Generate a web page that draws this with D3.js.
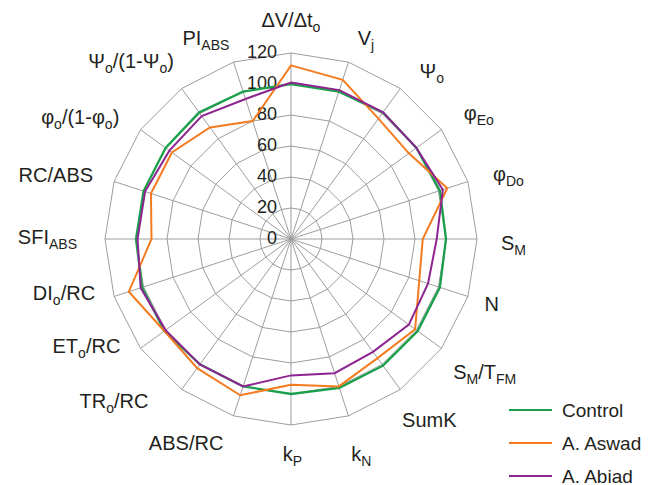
<!DOCTYPE html>
<html>
<head>
<meta charset="utf-8">
<script src="https://cdn.jsdelivr.net/npm/d3@7"></script>
<style>
  html, body { margin: 0; padding: 0; background: #fff; }
  svg { display: block; }
  text { font-family: "Liberation Sans", Arial, Helvetica, sans-serif; fill: #231f20; }
</style>
</head>
<body>
<svg id="chart" width="656" height="485"></svg>
<script>
// Parameters (axes run clockwise from the top); "_" marks a subscript
const axes = ["ΔV/Δt_o", "V_j", "Ψ_o", "φ_Eo", "φ_Do", "S_M", "N", "S_M/T_FM", "SumK", "k_N",
              "k_P", "ABS/RC", "TR_o/RC", "ET_o/RC", "DI_o/RC", "SFI_ABS", "RC/ABS",
              "φ_o/(1-φ_o)", "Ψ_o/(1-Ψ_o)", "PI_ABS"];

// Values relative to control (%)
const control = [100, 100, 101, 100, 101, 100, 101, 101, 101, 101, 100, 100, 100, 101, 101, 100, 100, 100, 101, 100];
const aswad   = [112, 108,  96,  94, 106,  85,  87,  99,  95, 100,  94, 106, 103, 101, 110,  90,  95,  95,  89,  80];
const abiad   = [101, 101, 101, 100, 103,  94,  93,  94,  90,  91,  88, 100, 100, 100, 102,  99,  99,  97,  98,  95];

const seriesNames = ["Control", "A. Aswad", "A. Abiad"];
const seriesColors = ["#1a9f4b", "#f47b20", "#8e2490"];
const ticks = [0, 20, 40, 60, 80, 100, 120];

// hand adjustments (px) applied to the automatic axis-label placement
const labelNudge = [[0, -1], [3, 7], [7.5, 11], [6, 7.5], [6, 1], [4, 6.5], [-2.5, 1.5], [-4.5, 5],
                    [-10, 7], [-3.5, 12], [1.5, 2], [-4, 1], [-21.5, -12], [-4, -21], [0, -7],
                    [-8, 0], [-2, 0], [-5, 11.5], [4, 1], [2, 7]];

const svg = d3.select("#chart");
const cx = 291, cy = 239, R = 186;
const r = d3.scaleLinear().domain([0, 120]).range([0, R]);
const angle = d3.scaleLinear().domain([0, axes.length]).range([0, 2 * Math.PI]);

const g = svg.append("g").attr("transform", `translate(${cx},${cy})`);
const pt = (i, v) => [Math.sin(angle(i)) * r(v), -Math.cos(angle(i)) * r(v)];

// grid rings
const ring = d3.line().curve(d3.curveLinearClosed);
g.append("g").selectAll("path").data(ticks.slice(1)).join("path")
  .attr("d", t => ring(axes.map((_, i) => pt(i, t))))
  .attr("fill", "none").attr("stroke", "#9d9d9d").attr("stroke-width", 1);

// spokes
g.append("g").selectAll("line").data(axes).join("line")
  .attr("x1", 0).attr("y1", 0)
  .attr("x2", (_, i) => pt(i, 120)[0]).attr("y2", (_, i) => pt(i, 120)[1])
  .attr("stroke", "#9d9d9d").attr("stroke-width", 1);

// tick labels
g.append("g").selectAll("text").data(ticks).join("text")
  .attr("x", -14).attr("y", t => -r(t) - 1.5)
  .attr("text-anchor", "end").attr("dominant-baseline", "central")
  .attr("font-size", 18).text(t => t);

// series
const series = [control, aswad, abiad];
g.append("g").selectAll("path").data(series).join("path")
  .attr("d", s => ring(s.map((v, i) => pt(i, v))))
  .attr("fill", "none")
  .attr("stroke", (_, k) => seriesColors[k])
  .attr("stroke-width", (_, k) => k === 0 ? 2.3 : 2)
  .attr("stroke-linejoin", "miter");

// axis labels with subscripts
const FS = 20, SUB = 14;
function addRich(sel, str) {
  const parts = str.split(/_(\w+)/);
  parts.forEach((p, k) => {
    if (!p) return;
    const isSub = k % 2 === 1;
    sel.append("tspan")
      .attr("font-size", isSub ? SUB : FS)
      .attr("dy", isSub ? 5 : (k > 0 ? -5 : 0))
      .text(p);
  });
}

// each label box is pinned by its corner / edge nearest the chart
const labelG = g.append("g");
axes.forEach((a, i) => {
  const t = labelG.append("text").attr("font-size", FS);
  addRich(t, a);
  const bb = t.node().getBBox();
  const x0 = bb.x, x1 = bb.x + bb.width;
  const y0 = bb.y + 4, y1 = bb.y + bb.height - 3;   // approximate ink extent
  const th = angle(i), s = Math.sin(th), c = Math.cos(th);
  const ar = R + 20;
  const ax = s * ar, ay = -c * ar;
  let dx, dy;
  if (Math.abs(s) < 1e-6) dx = ax - (x0 + x1) / 2;
  else if (s > 0) dx = ax - x0;
  else dx = ax - x1;
  if (c > 0.5) dy = ay - y1;
  else if (c < -0.5) dy = ay - y0;
  else dy = ay - (y0 + y1) / 2;
  dx += labelNudge[i][0];
  dy += labelNudge[i][1];
  t.attr("transform", `translate(${dx},${dy})`);
});

// legend
const leg = svg.append("g").selectAll("g").data(seriesNames).join("g")
  .attr("transform", (_, k) => `translate(509,${410 + k * 33})`);
leg.append("line").attr("x1", 0).attr("x2", 43).attr("y1", 0).attr("y2", 0)
  .attr("stroke", (_, k) => seriesColors[k]).attr("stroke-width", 2);
leg.append("text").attr("x", 53).attr("y", 0).attr("dominant-baseline", "central")
  .attr("font-size", 19).text(d => d);
</script>
</body>
</html>
